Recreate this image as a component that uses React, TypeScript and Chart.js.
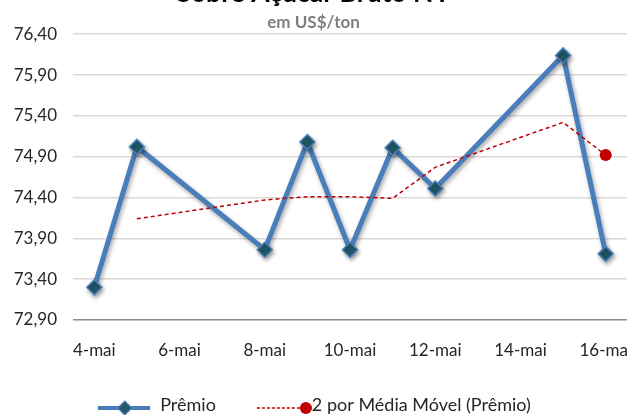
import React, { useEffect, useRef } from 'react';
import { Chart, registerables } from 'chart.js';

Chart.register(...registerables);

const titleText = 'Sobre Açúcar Bruto NY';
const subtitleText = 'em US$/ton';
const seriesNames = ['Prêmio', '2 por Média Móvel (Prêmio)'];
const monthAbbr = 'mai';

const days = [4, 5, 8, 9, 10, 11, 12, 15, 16];
const premio = [73.3, 75.02, 73.76, 75.08, 73.76, 75.01, 74.51, 76.14, 73.71];

const mmDays = [5, 8, 9, 10, 11, 12, 15, 16];
const mediaMovel = [74.14, 74.37, 74.41, 74.41, 74.39, 74.77, 75.32, 74.92];

const xTickDays = [4, 6, 8, 10, 12, 14, 16];
const yTicks = [72.9, 73.4, 73.9, 74.4, 74.9, 75.4, 75.9, 76.4];

const BLUE = '#4A7EBB';
const DARK = '#215968';
const RED = '#C00000';
const TEXT = '#262626';

function makeLegendImage(kind: number): HTMLCanvasElement {
  const c = document.createElement('canvas');
  if (kind === 0) {
    c.width = 52;
    c.height = 20;
    const g = c.getContext('2d')!;
    g.strokeStyle = BLUE;
    g.lineWidth = 4;
    g.beginPath();
    g.moveTo(0, 13);
    g.lineTo(52, 13);
    g.stroke();
    g.beginPath();
    g.moveTo(27, 6);
    g.lineTo(34, 13);
    g.lineTo(27, 20);
    g.lineTo(20, 13);
    g.closePath();
    g.fillStyle = DARK;
    g.fill();
    g.lineWidth = 1.2;
    g.strokeStyle = BLUE;
    g.stroke();
  } else {
    c.width = 73;
    c.height = 20;
    const g = c.getContext('2d')!;
    g.strokeStyle = RED;
    g.lineWidth = 1.5;
    g.setLineDash([3, 2]);
    g.beginPath();
    g.moveTo(18, 13);
    g.lineTo(63, 13);
    g.stroke();
    g.setLineDash([]);
    g.beginPath();
    g.arc(67, 13, 6, 0, Math.PI * 2);
    g.fillStyle = RED;
    g.fill();
  }
  return c;
}

const shadowPlugin = {
  id: 'lineShadow',
  beforeDatasetDraw(chart: any, args: any) {
    if (args.index === 0) {
      const ctx = chart.ctx;
      ctx.save();
      ctx.shadowColor = 'rgba(0,0,0,0.35)';
      ctx.shadowBlur = 4;
      ctx.shadowOffsetX = 1.5;
      ctx.shadowOffsetY = 2.5;
    }
  },
  afterDatasetDraw(chart: any, args: any) {
    if (args.index === 0) chart.ctx.restore();
  },
};

export default function App() {
  const ref = useRef<HTMLCanvasElement | null>(null);

  useEffect(() => {
    if (!ref.current) return;
    Chart.defaults.font.family = 'Lato';
    const legendImages = [makeLegendImage(0), makeLegendImage(1)];
    const chart = new Chart(ref.current, {
      type: 'line',
      data: {
        datasets: [
          {
            label: seriesNames[0],
            data: days.map((d, i) => ({ x: d, y: premio[i] })),
            borderColor: BLUE,
            borderWidth: 5,
            pointStyle: 'rectRot',
            pointRadius: 7.5,
            pointBackgroundColor: DARK,
            pointBorderColor: BLUE,
            pointBorderWidth: 1.5,
            tension: 0,
            order: 1,
          },
          {
            label: seriesNames[1],
            data: mmDays.map((d, i) => ({ x: d, y: mediaMovel[i] })),
            borderColor: RED,
            borderWidth: 1.5,
            borderDash: [4, 3],
            pointRadius: mmDays.map((_, i) => (i === mmDays.length - 1 ? 6 : 0)),
            pointBackgroundColor: RED,
            pointBorderColor: RED,
            pointBorderWidth: 0,
            tension: 0,
            order: 0,
          },
        ],
      } as any,
      options: {
        animation: false,
        responsive: false,
        layout: { padding: { left: 0, right: 33, top: 0, bottom: 0 } },
        plugins: {
          title: {
            display: true,
            text: titleText,
            color: '#000',
            font: { size: 26.5, weight: 'bold', family: 'Lato' },
            padding: { top: -2.5, bottom: 0 },
          },
          subtitle: {
            display: true,
            text: subtitleText,
            color: '#7f7f7f',
            font: { size: 17, weight: 'bold', family: 'Lato' },
            padding: { top: 3, bottom: 1.5 },
          },
          legend: {
            position: 'bottom',
            labels: {
              usePointStyle: true,
              pointStyleWidth: 55,
              padding: 32,
              color: TEXT,
              font: { size: 18 },
              sort: (a: any, b: any) => a.datasetIndex - b.datasetIndex,
              generateLabels: (ch: any) => {
                const items = (Chart.defaults.plugins.legend.labels as any).generateLabels(ch);
                return items.map((it: any) => ({
                  ...it,
                  pointStyle: legendImages[it.datasetIndex],
                  lineWidth: 0,
                }));
              },
            },
          },
          tooltip: { enabled: false },
        },
        scales: {
          x: {
            type: 'linear',
            min: 3.5,
            max: 16.5,
            grid: { display: false, drawTicks: false },
            border: { display: false },
            ticks: {
              padding: 20,
              color: TEXT,
              font: { size: 17 },
              callback: (v: any) => `${v}-${monthAbbr}`,
            },
            afterBuildTicks: (s: any) => {
              s.ticks = xTickDays.map((v) => ({ value: v }));
            },
            afterFit: (s: any) => {
              s.height = 44;
              s.paddingLeft = 0;
              s.paddingRight = 0;
            },
          },
          y: {
            min: 72.9,
            max: 76.4,
            afterBuildTicks: (s: any) => {
              s.ticks = yTicks.map((v) => ({ value: v }));
            },
            ticks: {
              padding: 16,
              color: TEXT,
              font: { size: 17 },
              callback: (v: any) => Number(v).toFixed(2).replace('.', ','),
            },
            grid: {
              color: (c: any) =>
                c.tick && Math.abs(c.tick.value - 72.9) < 1e-6 ? '#8c8c8c' : '#d9d9d9',
              lineWidth: 1.5,
              drawTicks: false,
            },
            border: { display: false },
            afterFit: (s: any) => {
              s.width = 73;
            },
          },
        },
      } as any,
      plugins: [shadowPlugin],
    });
    return () => chart.destroy();
  }, []);

  return (
    <div
      style={{
        position: 'fixed',
        left: 0,
        top: 0,
        width: 627,
        height: 417,
        overflow: 'hidden',
        background: '#fff',
      }}
    >
      <canvas
        ref={ref}
        width={660}
        height={444}
        style={{ position: 'absolute', left: 0, top: -20, width: 660, height: 444 }}
      />
    </div>
  );
}
